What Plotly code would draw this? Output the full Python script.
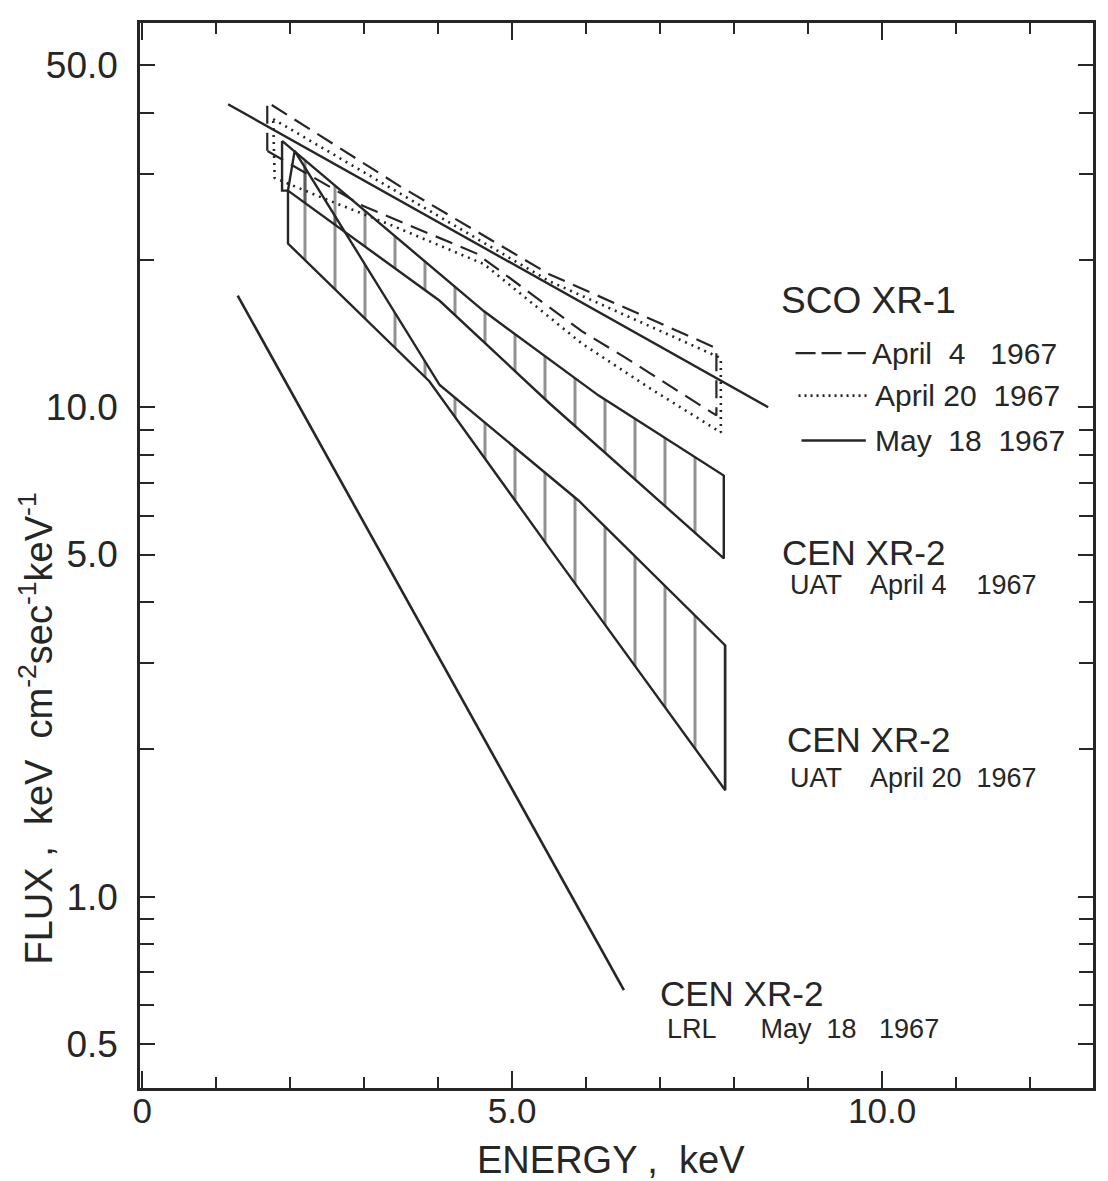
import math
import plotly.graph_objects as go

# ---------------- data (energy keV, flux keV cm^-2 s^-1 keV^-1) ----------------
# SCO XR-1 May 18 1967 (solid line)
sco_may18_x = [1.16, 8.46]
sco_may18_y = [41.6, 10.0]

# SCO XR-1 April 4 1967 (dashed closed outline: upper edge, then lower edge back)
sco_apr4_x = [1.69, 1.69, 3.48, 5.50, 7.76, 7.76, 6.54, 5.94, 4.52, 2.98, 1.69]
sco_apr4_y = [33.4, 42.0, 28.3, 18.7, 13.2, 9.62, 12.6, 14.3, 20.6, 25.8, 33.4]

# SCO XR-1 April 20 1967 (dotted closed outline)
sco_apr20_x = [1.77, 3.48, 5.50, 7.82, 7.82, 6.85, 5.94, 4.62, 3.32, 2.43, 1.79, 1.77]
sco_apr20_y = [38.8, 27.4, 18.1, 12.6, 8.88, 10.96, 13.5, 19.6, 23.7, 26.8, 29.4, 38.8]

# CEN XR-2 UAT April 4 1967 (hatched band)
cen_apr4_x = [1.89, 3.21, 4.62, 6.17, 7.86, 7.86, 5.50, 4.02, 1.97, 1.89, 1.89]
cen_apr4_y = [35.0, 23.8, 15.7, 10.56, 7.25, 4.91, 10.2, 16.5, 27.7, 27.7, 35.0]

# CEN XR-2 UAT April 20 1967 (hatched band)
cen_apr20_x = [2.06, 4.02, 5.90, 7.88, 7.88, 5.50, 3.88, 1.97, 1.97, 2.06]
cen_apr20_y = [33.4, 11.1, 6.44, 3.26, 1.65, 5.16, 11.3, 21.6, 27.7, 33.4]

# CEN XR-2 LRL May 18 1967 (solid line)
cen_may18_x = [1.29, 6.51]
cen_may18_y = [16.9, 0.644]

# axes
x_range = [-0.03, 12.85]
y_range_log = [-0.391, 1.785]
x_major = [0, 5, 10]
x_major_text = ["0", "5.0", "10.0"]
x_minor = [1, 2, 3, 4, 6, 7, 8, 9, 11, 12]
y_major = [0.5, 1, 5, 10, 50]
y_major_text = ["0.5", "1.0", "5.0", "10.0", "50.0"]
y_minor = [0.6, 0.7, 0.8, 0.9, 2, 3, 4, 6, 7, 8, 9, 20, 30, 40]

INK = "#262626"
FONT = "Liberation Sans"

fig = go.Figure()

band_pattern = dict(shape="|", size=30, solidity=0.1, fgcolor=INK,
                    bgcolor="rgba(0,0,0,0)")
for bx, by in [(cen_apr4_x, cen_apr4_y), (cen_apr20_x, cen_apr20_y)]:
    fig.add_trace(go.Scatter(x=bx, y=by, mode="lines", fill="toself",
                             fillcolor="rgba(0,0,0,0)", fillpattern=band_pattern,
                             line=dict(color=INK, width=2.4), hoverinfo="skip"))

fig.add_trace(go.Scatter(x=sco_apr4_x, y=sco_apr4_y, mode="lines",
                         line=dict(color=INK, width=2.2, dash="18px,9px")))
fig.add_trace(go.Scatter(x=sco_apr20_x, y=sco_apr20_y, mode="lines",
                         line=dict(color=INK, width=2.6, dash="2px,5px")))
fig.add_trace(go.Scatter(x=sco_may18_x, y=sco_may18_y, mode="lines",
                         line=dict(color=INK, width=2.4)))
fig.add_trace(go.Scatter(x=cen_may18_x, y=cen_may18_y, mode="lines",
                         line=dict(color=INK, width=2.6)))

# legend samples for SCO XR-1
fig.add_trace(go.Scatter(x=[8.83, 9.78], y=[12.9, 12.9], mode="lines",
                         line=dict(color=INK, width=2.4, dash="20px,6px")))
fig.add_trace(go.Scatter(x=[8.87, 9.81], y=[10.56, 10.56], mode="lines",
                         line=dict(color=INK, width=2.6, dash="2px,4px")))
fig.add_trace(go.Scatter(x=[8.91, 9.78], y=[8.55, 8.55], mode="lines",
                         line=dict(color=INK, width=2.4)))


def txt(x, y, s, size):
    fig.add_annotation(x=x, y=math.log10(y), text=s, showarrow=False, xanchor="left",
                       yanchor="middle", font=dict(family=FONT, size=size, color=INK))


txt(8.60, 16.5, "SCO XR-1", 37)
txt(9.83, 12.9, "April  4   1967", 30)
txt(9.88, 10.56, "April 20  1967", 30)
txt(9.88, 8.55, "May  18  1967", 30)
txt(8.62, 5.06, "CEN XR-2", 35)
txt(8.73, 4.33, "UAT    April 4    1967", 27)
txt(8.69, 2.09, "CEN XR-2", 35)
txt(8.73, 1.75, "UAT    April 20  1967", 27)
txt(6.97, 0.635, "CEN XR-2", 35)
txt(7.06, 0.537, "LRL      May  18   1967", 27)

# axis titles
fig.add_annotation(xref="paper", yref="paper", x=0.494, y=-0.0675,
                   text="ENERGY ,  keV", showarrow=False, xanchor="center",
                   yanchor="middle", font=dict(family=FONT, size=38, color=INK))
fig.add_annotation(xref="paper", yref="paper", x=-0.109, y=0.3377, textangle=-90,
                   text="FLUX ,  keV  cm<sup>-2</sup>sec<sup>-1</sup>keV<sup>-1</sup>",
                   showarrow=False, xanchor="center", yanchor="middle",
                   font=dict(family=FONT, size=38, color=INK))

fig.update_layout(
    width=1100, height=1173,
    margin=dict(l=132, r=13, t=14, b=93),
    paper_bgcolor="white", plot_bgcolor="white",
    showlegend=False,
    font=dict(family=FONT, color=INK),
)
fig.update_xaxes(
    range=x_range, showgrid=False, zeroline=False,
    showline=True, linecolor=INK, linewidth=2.5, mirror="allticks",
    ticks="inside", ticklen=17, tickwidth=2.2, tickcolor=INK,
    tickvals=x_major, ticktext=x_major_text, ticklabelstandoff=-10,
    tickfont=dict(family=FONT, size=35, color=INK),
    minor=dict(tickvals=x_minor, ticks="inside", ticklen=11, tickwidth=2.2,
               tickcolor=INK, showgrid=False),
)
fig.update_yaxes(
    type="log", range=y_range_log, showgrid=False, zeroline=False,
    showline=True, linecolor=INK, linewidth=2.5, mirror="allticks",
    ticks="inside", ticklen=15, tickwidth=2.2, tickcolor=INK,
    tickvals=y_major, ticktext=y_major_text, ticklabelstandoff=12,
    tickfont=dict(family=FONT, size=37, color=INK),
    minor=dict(tickvals=y_minor, ticks="inside", ticklen=14, tickwidth=2.2,
               tickcolor=INK, showgrid=False),
)

fig.write_html("out.html")
